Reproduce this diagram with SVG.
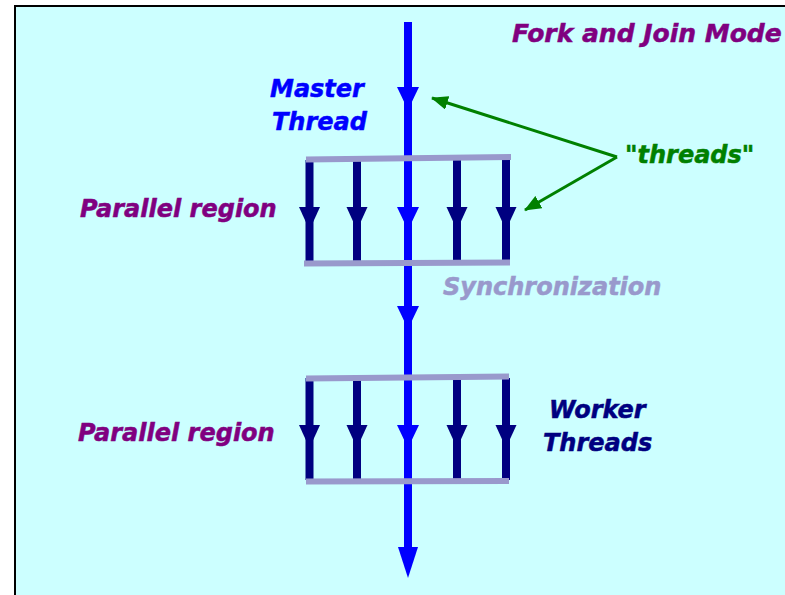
<svg xmlns="http://www.w3.org/2000/svg" width="785" height="595" viewBox="0 0 785 595">
<style>
.t{font-family:"DejaVu Sans","Verdana",sans-serif;font-weight:bold;font-style:italic;font-size:24px;stroke-width:0.5px}
.purple{fill:#800080;stroke:#800080}
.blue{fill:#0000FF;stroke:#0000FF}
.navy{fill:#000080;stroke:#000080}
.green{fill:#008000;stroke:#008000}
.sync{fill:#9999CC;stroke:#9999CC}
.bar{stroke:#9999CC;stroke-width:6;fill:none}
.main{stroke:#0000FF;stroke-width:8;fill:none}
.work{stroke:#000080;stroke-width:8;fill:none}
.gl{stroke:#008000;stroke-width:3;fill:none}
</style>
<defs>
<path id="hb" d="M-11,0 L11,0 L0,23 Z" fill="#0000FF"/>
<path id="hbl" d="M-10,0 L10,0 L0,31 Z" fill="#0000FF"/>
<path id="hn" d="M-10.5,0 L10.5,0 L0,23 Z" fill="#000080"/>
<marker id="ga" markerWidth="17" markerHeight="14" refX="16" refY="7" orient="auto" markerUnits="userSpaceOnUse">
<path d="M0,0 L17,7 L0,14 Z" fill="#008000"/>
</marker>
</defs>
<rect x="15" y="6" width="780" height="600" fill="#CCFFFF" stroke="#000" stroke-width="2"/>

<g id="connectors">
<line class="main" x1="408" y1="22" x2="408" y2="552"/>
<use href="#hb" x="408" y="87"/>
<use href="#hb" x="408" y="207"/>
<use href="#hb" x="408" y="306"/>
<use href="#hb" x="408" y="425"/>
<use href="#hbl" x="408" y="547"/>
<line class="work" x1="309.5" y1="160" x2="309.5" y2="262"/>
<line class="work" x1="357" y1="160" x2="357" y2="262"/>
<line class="work" x1="457" y1="160" x2="457" y2="262"/>
<line class="work" x1="506" y1="160" x2="506" y2="262"/>
<use href="#hn" x="309.5" y="207"/>
<use href="#hn" x="357" y="207"/>
<use href="#hn" x="457" y="207"/>
<use href="#hn" x="506" y="207"/>
<line class="work" x1="309.5" y1="378" x2="309.5" y2="480"/>
<line class="work" x1="357" y1="378" x2="357" y2="480"/>
<line class="work" x1="457" y1="378" x2="457" y2="480"/>
<line class="work" x1="506" y1="378" x2="506" y2="480"/>
<use href="#hn" x="309.5" y="425"/>
<use href="#hn" x="357" y="425"/>
<use href="#hn" x="457" y="425"/>
<use href="#hn" x="506" y="425"/>
<line class="gl" x1="617" y1="157" x2="432" y2="98" marker-end="url(#ga)"/>
<line class="gl" x1="617" y1="157" x2="525" y2="210" marker-end="url(#ga)"/>
</g>

<g id="region1">
<line class="bar" x1="306" y1="159.5" x2="511" y2="157"/>
<line class="bar" x1="304" y1="263.5" x2="510" y2="262.5"/>
</g>
<g id="region2">
<line class="bar" x1="306" y1="378.5" x2="509" y2="376.5"/>
<line class="bar" x1="306" y1="481.5" x2="509" y2="481"/>
</g>

<g id="title"><text class="t purple" x="512" y="42" style="font-size:25px">Fork and Join Mode</text></g>
<g id="master"><text class="t blue" x="270" y="97">Master</text><text class="t blue" x="272" y="130">Thread</text></g>
<g id="threads-label"><text class="t green" x="625" y="163">"threads"</text></g>
<g id="parallel1"><text class="t purple" x="80" y="217">Parallel region</text></g>
<g id="sync"><text class="t sync" x="443" y="295">Synchronization</text></g>
<g id="parallel2"><text class="t purple" x="78" y="441">Parallel region</text></g>
<g id="worker"><text class="t navy" x="549" y="418">Worker</text><text class="t navy" x="543" y="451">Threads</text></g>
</svg>
